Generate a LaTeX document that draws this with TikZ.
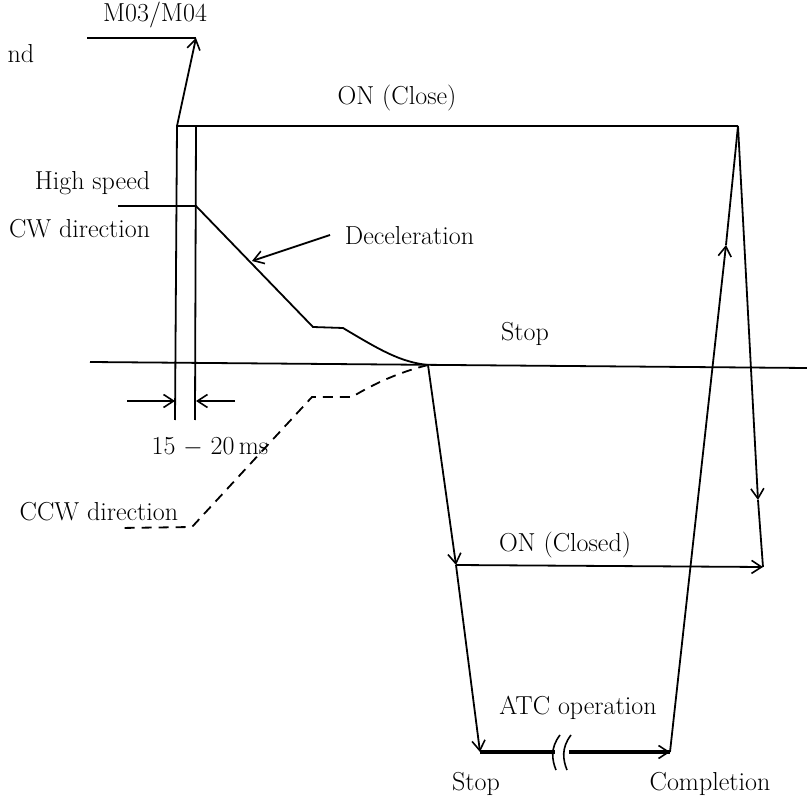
\documentclass[tikz,border=0pt]{standalone}
\usetikzlibrary{arrows.meta}
\begin{document}
\begin{tikzpicture}[x=1pt,y=-1pt,line width=1.8pt,>={Straight Barb[length=10pt,width=13pt,line width=1.6pt]},
  lbl/.style={font=\fontsize{26}{30}\selectfont,inner sep=1pt}]
\useasboundingbox (0,0) rectangle (807,805);
% time points
\coordinate (cmdL) at (87,38); \coordinate (cmdR) at (196,38);
\coordinate (onL) at (177,126); \coordinate (onR) at (738,126);
\coordinate (hiL) at (118,206); \coordinate (hiR) at (196,206);
\coordinate (decA) at (313,327); \coordinate (decB) at (343,328);
\coordinate (zero) at (428,365);
\coordinate (axL) at (90,362); \coordinate (axR) at (807,368);
\coordinate (tL) at (175,420); \coordinate (tR) at (195,420);
\coordinate (clsL) at (456,565); \coordinate (clsR) at (763,567);
\coordinate (atcL) at (480,752); \coordinate (atcR) at (670,752);
\coordinate (upM) at (726,245); \coordinate (dnM) at (758,500);
% command and spindle signals
\draw (cmdL)--(cmdR);
\draw[->] (onL)--(cmdR);
\draw (onL)--(onR);
\draw (onL)--(tL); \draw (196,126)--(tR);
\draw (axL)--(axR);
\draw (hiL)--(hiR)--(decA)--(decB) .. controls (380,350) and (400,362) .. (zero);
\draw[dashed,dash pattern=on 10pt off 7pt] (zero) .. controls (400,372) and (375,383) .. (352,397)
  --(312,397)--(192,527)--(120,528);
% 15-20 ms
\draw[->] (127,401)--(175,401);
\draw[->] (235,401)--(196,401);
\draw[->] (330,235)--(252,261);
% orientation and ATC
\draw[->] (zero)--(clsL);
\draw[->] (clsL)--(atcL);
\draw[->] (clsL)--(clsR);
\draw[line width=3.5pt] (atcL)--(555,752);
\draw[line width=3.5pt] (569,752)--(atcR);
\draw[->] (640,752)--(atcR);
\draw[line width=1.6pt] (560,735) .. controls (550,748) and (552,760) .. (556,770);
\draw[line width=1.6pt] (571,735) .. controls (561,748) and (563,760) .. (567,770);
\draw[->] (atcR)--(upM); \draw (upM)--(onR);
\draw[->] (onR)--(dnM); \draw (dnM)--(clsR);
% labels
\node[lbl,anchor=base east] at (36,63) {nd};
\node[lbl] at (155,15) {M03/M04};
\node[lbl] at (397,98) {ON (Close)};
\node[lbl,anchor=east] at (152,183) {High speed};
\node[lbl,anchor=east] at (152,229) {CW direction};
\node[lbl,anchor=west] at (343,236) {Deceleration};
\node[lbl] at (525,334) {Stop};
\node[lbl] at (210,447) {15 $-$ 20\,ms};
\node[lbl,anchor=east] at (180,512) {CCW direction};
\node[lbl] at (565,545) {ON (Closed)};
\node[lbl] at (578,708) {ATC operation};
\node[lbl] at (476,784) {Stop};
\node[lbl] at (710,784) {Completion};
\end{tikzpicture}
\end{document}
